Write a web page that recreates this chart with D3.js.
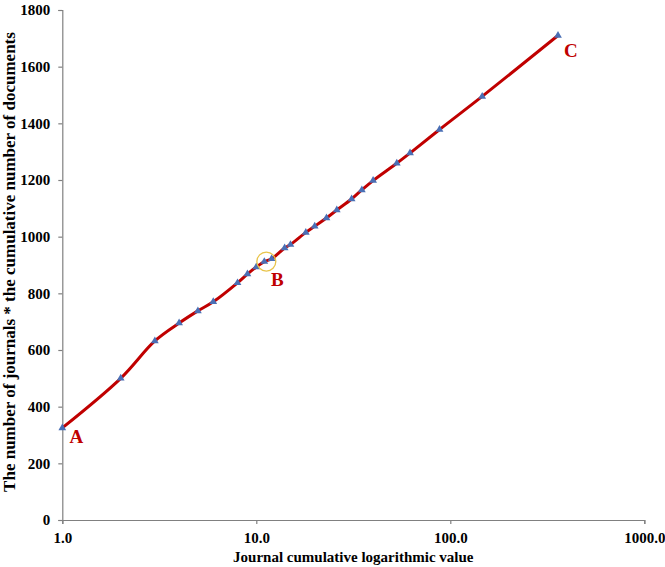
<!DOCTYPE html>
<html>
<head>
<meta charset="utf-8">
<script src="https://cdn.jsdelivr.net/npm/d3@7"></script>
<style>
  body { margin: 0; background: #fff; }
  svg { display: block; font-family: "Liberation Serif", "Times New Roman", serif; }
</style>
</head>
<body>
<svg width="665" height="567"></svg>
<script>
// journal cumulative log value (x) vs journals * cumulative documents (y)
let xValues = [1, 2, 3, 4, 5, 6, 8, 9, 10, 11, 12, 14, 15, 18, 20, 23, 26, 31, 35, 40, 53, 62, 88, 146, 359];
let yValues = [325, 500, 632, 695, 738, 770, 837, 868, 893, 912, 922, 960, 972, 1015, 1037, 1066, 1094, 1133, 1165, 1198, 1259, 1295, 1378, 1495, 1710];
let xTicks = [1, 10, 100, 1000];
let yTicks = [0, 200, 400, 600, 800, 1000, 1200, 1400, 1600, 1800];
let pointLabels = [{ name: "A", index: 0 }, { name: "B", index: 9 }, { name: "C", index: 24 }];

let svg = d3.select("svg");
let margin = { left: 62.3, top: 10, right: 20.7, bottom: 47 },
    width = 665 - margin.left - margin.right,
    height = 567 - margin.top - margin.bottom;

let red = "#c00000", axisColor = "#808080";

let x = d3.scaleLog().domain([1, 1000]).range([0, width]);
let y = d3.scaleLinear().domain([0, 1800]).range([height, 0]);

let g = svg.append("g").attr("transform", `translate(${margin.left},${margin.top})`);

// axes
let xAxis = g.append("g")
    .attr("transform", `translate(0,${height})`)
    .call(d3.axisBottom(x).tickValues(xTicks).tickFormat(d3.format(".1f")).tickSize(4).tickPadding(8));
let yAxis = g.append("g")
    .call(d3.axisLeft(y).tickValues(yTicks).tickFormat(d3.format("d")).tickSize(4).tickPadding(8));

[xAxis, yAxis].forEach(function (a) {
    a.attr("font-family", "Liberation Serif")
        .attr("font-size", 15)
        .attr("font-weight", "bold");
    a.select(".domain").attr("stroke", axisColor).attr("stroke-width", 1.2);
    a.selectAll(".tick line").attr("stroke", axisColor).attr("stroke-width", 1.2);
    a.selectAll(".tick text").attr("fill", "#000");
});

// axis titles
svg.append("text")
    .attr("x", margin.left + 291)
    .attr("y", 562)
    .attr("text-anchor", "middle")
    .style("font-weight", "bold")
    .style("font-size", "15px")
    .text("Journal cumulative logarithmic value");

svg.append("text")
    .attr("transform", "translate(15,262) rotate(-90)")
    .attr("text-anchor", "middle")
    .style("font-weight", "bold")
    .style("font-size", "17px")
    .text("The number of journals * the cumulative number of documents");

// the data points
let data = xValues.map(function (d, i) { return { x: d, y: yValues[i] }; });

let line = d3.line()
    .x(function (d) { return x(d.x); })
    .y(function (d) { return y(d.y); })
    .curve(d3.curveCatmullRom.alpha(0.5));

g.append("path")
    .datum(data)
    .attr("fill", "none")
    .attr("stroke", red)
    .attr("stroke-width", 3)
    .attr("d", line);

let tri = d3.symbol().type(d3.symbolTriangle).size(26);
g.append("g")
    .selectAll("path")
    .data(data)
    .enter().append("path")
    .attr("transform", function (d) { return `translate(${x(d.x)},${y(d.y)})`; })
    .attr("d", tri)
    .attr("fill", "#4a6fb5");

// highlight circle round B
let b = data[9];
g.append("circle")
    .attr("cx", x(b.x) + 2)
    .attr("cy", y(b.y))
    .attr("r", 9.5)
    .attr("fill", "none")
    .attr("stroke", "#e8c44a")
    .attr("stroke-width", 1.3);

// A, B, C labels
let labelOffset = { A: [14, 15], B: [13, 24], C: [13, 21] };
g.append("g")
    .selectAll("text")
    .data(pointLabels)
    .enter().append("text")
    .attr("x", function (d) { return x(data[d.index].x) + labelOffset[d.name][0]; })
    .attr("y", function (d) { return y(data[d.index].y) + labelOffset[d.name][1]; })
    .attr("text-anchor", "middle")
    .attr("fill", red)
    .style("font-weight", "bold")
    .style("font-size", "19px")
    .text(function (d) { return d.name; });
</script>
</body>
</html>
